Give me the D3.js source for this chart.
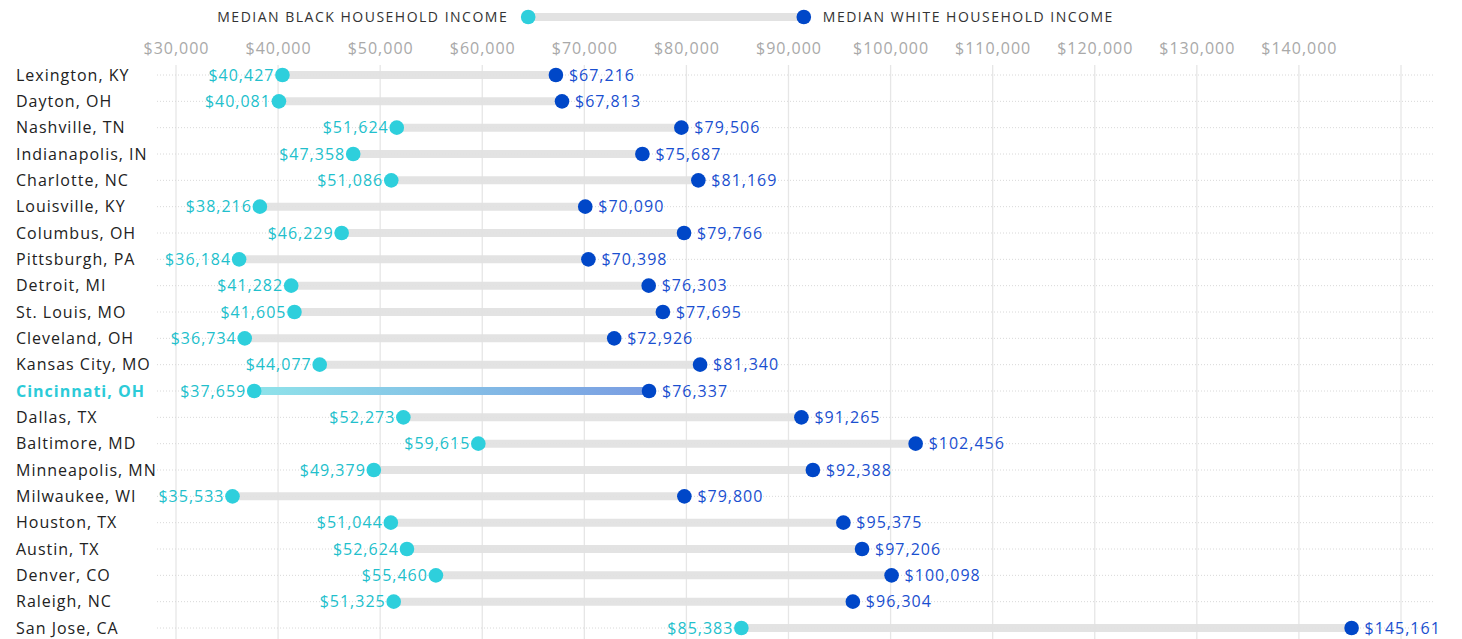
<!DOCTYPE html>
<html><head><meta charset="utf-8">
<script src="https://cdn.jsdelivr.net/npm/d3@7"></script>
<style>
html,body{margin:0;padding:0;background:#fff;}
svg{display:block;font-family:"Open Sans",sans-serif;}
</style></head>
<body><svg id="c" width="1462" height="639"></svg>
<script>
const cities = ["Lexington, KY","Dayton, OH","Nashville, TN","Indianapolis, IN","Charlotte, NC","Louisville, KY","Columbus, OH","Pittsburgh, PA","Detroit, MI","St. Louis, MO","Cleveland, OH","Kansas City, MO","Cincinnati, OH","Dallas, TX","Baltimore, MD","Minneapolis, MN","Milwaukee, WI","Houston, TX","Austin, TX","Denver, CO","Raleigh, NC","San Jose, CA"];
const blackIncome = [40427,40081,51624,47358,51086,38216,46229,36184,41282,41605,36734,44077,37659,52273,59615,49379,35533,51044,52624,55460,51325,85383];
const whiteIncome = [67216,67813,79506,75687,81169,70090,79766,70398,76303,77695,72926,81340,76337,91265,102456,92388,79800,95375,97206,100098,96304,145161];
const tickValues = [30000,40000,50000,60000,70000,80000,90000,100000,110000,120000,130000,140000,150000];
const highlight = "Cincinnati, OH";
const legendLabels = ["MEDIAN BLACK HOUSEHOLD INCOME","MEDIAN WHITE HOUSEHOLD INCOME"];
const legendValues = [64500, 91500];

const C_BLACK = "#2ecfdc", C_WHITE = "#0047c8", T_BLACK = "#22bfcc", T_WHITE = "#1a4fd0";
const svg = d3.select("#c");
const fmt = d3.format("$,");
const x = d3.scaleLinear().domain([30000,150000]).range([176,1401]);
const y = d3.scalePoint().domain(cities).range([75, 628]);

const hlIdx = cities.indexOf(highlight);
const defs = svg.append("defs");
const g = defs.append("linearGradient").attr("id","hl").attr("gradientUnits","userSpaceOnUse")
  .attr("x1",x(blackIncome[hlIdx])).attr("x2",x(whiteIncome[hlIdx])).attr("y1",0).attr("y2",0);
g.append("stop").attr("offset","0%").attr("stop-color","#8fe3ea");
g.append("stop").attr("offset","100%").attr("stop-color","#7a9de2");

// vertical grid
svg.append("g").selectAll("line").data(tickValues).join("line")
  .attr("x1",d=>x(d)).attr("x2",d=>x(d)).attr("y1",65).attr("y2",639)
  .attr("stroke","#e6e6e6").attr("stroke-width",1.3);

// axis labels (top)
const ax = svg.append("g").attr("transform","translate(0,51)")
  .call(d3.axisTop(x).tickValues(tickValues.slice(0,-1)).tickFormat(fmt).tickSize(0));
ax.select(".domain").remove();
ax.selectAll("text").attr("fill","#a9a9a9").attr("font-size",16).attr("dy","0.35em")
  .attr("letter-spacing","1px").attr("font-family","'Open Sans',sans-serif");

// row dotted lines
svg.append("g").selectAll("line").data(cities).join("line")
  .attr("x1",157).attr("x2",1435).attr("y1",d=>y(d)).attr("y2",d=>y(d))
  .attr("stroke","#d8d8d8").attr("stroke-width",1).attr("stroke-dasharray","1,2");

// city labels
svg.append("g").selectAll("text").data(cities).join("text")
  .attr("x",16).attr("y",d=>y(d)).attr("dy","0.35em")
  .attr("font-size",16).attr("letter-spacing","1px")
  .attr("fill",d=>d===highlight?"#2ccbd8":"#222")
  .attr("font-weight",d=>d===highlight?700:400)
  .text(d=>d);

const rows = cities.map((c,i)=>({c, b:blackIncome[i], w:whiteIncome[i]}));
const rg = svg.append("g").selectAll("g").data(rows).join("g");
rg.append("line")
  .attr("x1",d=>x(d.b)).attr("x2",d=>x(d.w)).attr("y1",d=>y(d.c)).attr("y2",d=>y(d.c))
  .attr("stroke",d=>d.c===highlight?"url(#hl)":"#e2e2e2").attr("stroke-width",8)
  .attr("opacity",d=>d.c===highlight?1:0.95);
rg.append("circle").attr("cx",d=>x(d.b)).attr("cy",d=>y(d.c)).attr("r",7.3).attr("fill",C_BLACK);
rg.append("circle").attr("cx",d=>x(d.w)).attr("cy",d=>y(d.c)).attr("r",7.3).attr("fill",C_WHITE);
rg.append("text").attr("x",d=>x(d.b)-8).attr("y",d=>y(d.c)).attr("dy","0.35em")
  .attr("text-anchor","end").attr("font-size",16).attr("letter-spacing","1px").attr("fill",T_BLACK).text(d=>fmt(d.b));
rg.append("text").attr("x",d=>x(d.w)+13).attr("y",d=>y(d.c)).attr("dy","0.35em")
  .attr("font-size",16).attr("letter-spacing","1px").attr("fill",T_WHITE).text(d=>fmt(d.w));

// legend
const lg = svg.append("g");
lg.append("line").attr("x1",x(legendValues[0])).attr("x2",x(legendValues[1])).attr("y1",17).attr("y2",17)
  .attr("stroke","#e2e2e2").attr("stroke-width",8);
lg.append("circle").attr("cx",x(legendValues[0])).attr("cy",17).attr("r",7.3).attr("fill",C_BLACK);
lg.append("circle").attr("cx",x(legendValues[1])).attr("cy",17).attr("r",7.3).attr("fill",C_WHITE);
lg.append("text").attr("x",x(legendValues[0])-20).attr("y",17).attr("dy","0.35em").attr("text-anchor","end")
  .attr("font-size",14).attr("letter-spacing","1.5px").attr("fill","#333").text(legendLabels[0]);
lg.append("text").attr("x",x(legendValues[1])+19).attr("y",17).attr("dy","0.35em")
  .attr("font-size",14).attr("letter-spacing","1.5px").attr("fill","#333").text(legendLabels[1]);
</script></body></html>
